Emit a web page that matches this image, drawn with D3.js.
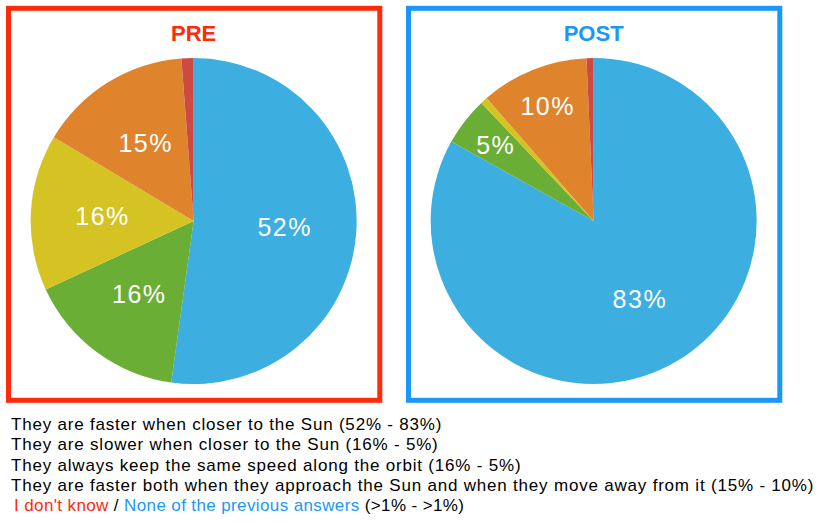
<!DOCTYPE html>
<meta charset="utf-8">
<script src="https://d3js.org/d3.v7.min.js"></script>
<style>
  body { margin: 0; background: #fff; }
  text { font-family: "Liberation Sans", Arial, Helvetica, sans-serif; }
</style>
<div id="vis"></div>
<script>

    // answers, in the order they go round each pie (clockwise from 12 o'clock)
    var categories = ["Faster when closer", "Slower when closer", "Same speed", "Faster both ways", "Don't know / none"];
    var preValues = [52.2, 15.9, 15.5, 15.2, 1.2];
    var postValues = [83.1, 4.8, 0.7, 10.7, 0.7];
    var preLabels = ["52%", "16%", "16%", "15%", ""];
    var postLabels = ["83%", "5%", "", "10%", ""];
    var sliceColors = ["#3caee0", "#6aae36", "#d4c322", "#df842d", "#cd4a42"];

    var panelTitles = ["PRE", "POST"];
    var panelColors = ["#ff2a0a", "#1b97fb"];

    var legendLines = [
        "They are faster when closer to the Sun (52% - 83%)",
        "They are slower when closer to the Sun (16% - 5%)",
        "They always keep the same speed along the orbit (16% - 5%)",
        "They are faster both when they approach the Sun and when they move away from it (15% - 10%)"
    ];

    var width = 823, height = 522;
    var svg = d3.select("#vis")
        .append("svg")
        .attr("width", width)
        .attr("height", height);

    var panels = [
        { title: panelTitles[0], color: panelColors[0], values: preValues, labels: preLabels, x: 8.5 },
        { title: panelTitles[1], color: panelColors[1], values: postValues, labels: postLabels, x: 408.5 }
    ];
    var boxW = 371.3, boxH = 392, boxY = 8.3;
    var radius = 163;

    var pie = d3.pie().sort(null).value(function (d) { return d; });
    var arc = d3.arc().innerRadius(0).outerRadius(radius);

    panels.forEach(function (p) {
        var g = svg.append("g");

        g.append("rect")
            .attr("x", p.x)
            .attr("y", boxY)
            .attr("width", boxW)
            .attr("height", boxH)
            .attr("fill", "none")
            .attr("stroke", p.color)
            .attr("stroke-width", 5);

        var cx = p.x + boxW / 2 - 0.5;

        g.append("text")
            .attr("x", cx)
            .attr("y", 41)
            .attr("text-anchor", "middle")
            .style("font-size", "22px")
            .style("font-weight", "bold")
            .attr("fill", p.color)
            .text(p.title);

        var pg = g.append("g")
            .attr("transform", "translate(" + cx + ",221)");

        var arcs = pie(p.values);

        pg.selectAll("path")
            .data(arcs)
            .enter()
            .append("path")
            .attr("d", arc)
            .attr("fill", function (d, i) { return sliceColors[i]; });

        // small slices get their label pushed out towards the rim
        pg.selectAll("text")
            .data(arcs)
            .enter()
            .append("text")
            .attr("transform", function (d) {
                var a = (d.startAngle + d.endAngle) / 2;
                var share = (d.endAngle - d.startAngle) / (2 * Math.PI);
                var r = share < 0.12 ? radius * 0.76 : radius * 0.56;
                return "translate(" + (Math.sin(a) * r) + "," + (-Math.cos(a) * r) + ")";
            })
            .attr("text-anchor", "middle")
            .attr("dy", "0.35em")
            .style("font-size", "25px")
            .style("letter-spacing", "1.5px")
            .attr("fill", "#fff")
            .text(function (d, i) { return p.labels[i]; });
    });

    // legend underneath
    var legend = svg.append("g")
        .style("font-size", "17px")
        .style("letter-spacing", "0.8px")
        .attr("fill", "#000");

    legend.selectAll("text.line")
        .data(legendLines)
        .enter()
        .append("text")
        .attr("class", "line")
        .attr("x", 11)
        .attr("y", function (d, i) { return 430 + i * 20.3; })
        .text(function (d) { return d; });

    var last = legend.append("text")
        .attr("x", 14)
        .attr("y", 430 + 4 * 20.3)
        .style("letter-spacing", "0.38px");
    last.append("tspan").attr("fill", panelColors[0]).text("I don't know");
    last.append("tspan").text(" / ");
    last.append("tspan").attr("fill", panelColors[1]).text("None of the previous answers");
    last.append("tspan").text(" (>1% - >1%)");

</script>
